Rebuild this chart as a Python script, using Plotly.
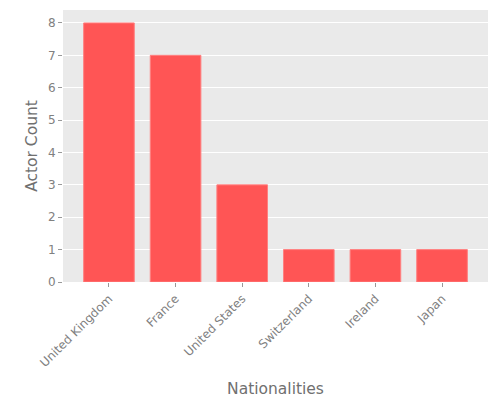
import plotly.graph_objects as go

# nationalities of actors
nationalities = ["United Kingdom", "France", "United States", "Switzerland", "Ireland", "Japan"]
actor_counts = [8, 7, 3, 1, 1, 1]

fig = go.Figure()
fig.add_trace(go.Bar(x=list(range(len(nationalities))), y=actor_counts,
                     width=0.76, marker=dict(color="#FF5555", line=dict(color="#FF8080", width=1))))

# page body has an 8px margin, so the figure is a bit smaller than the window
fig.update_layout(
    width=492, height=392,
    margin=dict(l=55, r=12, t=2, b=118),
    paper_bgcolor="white", plot_bgcolor="#EAEAEA",
    font=dict(family="DejaVu Sans", color="#555555"),
    showlegend=False,
    xaxis=dict(tickmode="array", tickvals=list(range(len(nationalities))), ticktext=nationalities,
               tickangle=-45, range=[-0.69, 5.69], showgrid=False, zeroline=False, automargin=False,
               ticks="outside", ticklen=4, tickcolor="#999999", tickfont=dict(size=12, color="#808080"),
               title=dict(text="Nationalities", font=dict(size=15.5, color="#707070"), standoff=14)),
    yaxis=dict(range=[0, 8.4], dtick=1, gridcolor="white", gridwidth=1, zeroline=False, automargin=False,
               ticks="outside", ticklen=4, tickcolor="#999999", tickfont=dict(size=12, color="#808080"),
               title=dict(text="Actor Count", font=dict(size=15.5, color="#707070"), standoff=6)),
)

fig.write_html("out.html")
